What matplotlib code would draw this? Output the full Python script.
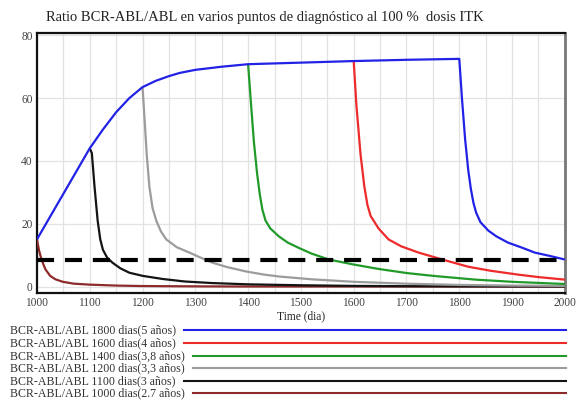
import matplotlib
matplotlib.use("Agg")
import matplotlib.pyplot as plt
from matplotlib.lines import Line2D

title = "Ratio BCR-ABL/ABL en varios puntos de diagnóstico al 100 %  dosis ITK"
xlabel = "Time (dia)"

# Blue: diagnosis at 1800 days
t_1800 = [1000, 1100, 1125, 1150, 1175, 1200, 1225, 1250, 1270, 1300, 1350, 1400, 1500, 1600, 1700, 1800,
          1805, 1811, 1817, 1822, 1827, 1832, 1840, 1855, 1870, 1892, 1920, 1943, 1970, 2000]
v_1800 = [15, 44, 50, 55.5, 60, 63.5, 65.5, 67, 68, 69, 70, 70.8, 71.3, 71.8, 72.2, 72.5,
          60, 47, 37, 31, 26.5, 23.5, 20.5, 17.8, 16, 14, 12.3, 10.8, 9.8, 8.6]

# Red: diagnosis at 1600 days
t_1600 = [1600, 1605, 1613, 1620, 1626, 1632, 1647, 1666, 1690, 1723, 1770, 1817, 1860, 1911, 1950, 2000]
v_1600 = [71.8, 58, 42, 32, 26, 22.5, 18.5, 15, 12.8, 10.8, 8.5, 6.3, 5, 3.8, 3, 2.2]

# Green: diagnosis at 1400 days
t_1400 = [1400, 1406, 1411, 1417, 1422, 1427, 1433, 1442, 1458, 1475, 1496, 1520, 1553, 1600, 1647, 1700,
          1750, 1830, 1900, 2000]
v_1400 = [70.8, 57, 46, 36, 29.5, 24.5, 21, 18.5, 16, 14, 12.3, 10.5, 8.6, 7, 5.6, 4.3, 3.4, 2.2, 1.5, 0.8]

# Gray: diagnosis at 1200 days
t_1200 = [1200, 1204, 1208, 1213, 1219, 1226, 1235, 1245, 1265, 1289, 1310, 1332, 1360, 1396, 1430,
          1458, 1520, 1600, 1700, 1800, 1900, 2000]
v_1200 = [63.5, 53, 42, 31.8, 25, 21, 17.5, 15, 12.5, 10.8, 9.2, 7.6, 6.2, 4.8, 3.8, 3.2, 2.3, 1.5,
          0.9, 0.5, 0.3, 0.2]

# Black: diagnosis at 1100 days
t_1100 = [1100, 1104, 1109, 1115, 1120, 1125, 1133, 1143, 1158, 1175, 1200, 1238, 1280, 1332, 1400,
          1500, 1600, 1700, 1800, 2000]
v_1100 = [44, 42.5, 32, 21, 15, 11.7, 9.2, 7.6, 5.8, 4.4, 3.4, 2.4, 1.6, 1.1, 0.7, 0.4, 0.2, 0.1,
          0.05, 0]

# Dark red: diagnosis at 1000 days
t_1000 = [1000, 1004, 1008, 1011, 1016, 1025, 1035, 1049, 1070, 1100, 1150, 1200, 1300, 1400, 2000]
v_1000 = [15, 11.5, 9, 7.6, 5.5, 3.4, 2.3, 1.5, 0.9, 0.6, 0.3, 0.15, 0.05, 0, 0]

threshold = 8.6

labels = ["BCR-ABL/ABL 1800 dias(5 años)",
          "BCR-ABL/ABL 1600 dias(4 años)",
          "BCR-ABL/ABL 1400 dias(3,8 años)",
          "BCR-ABL/ABL 1200 dias(3,3 años)",
          "BCR-ABL/ABL 1100 dias(3 años)",
          "BCR-ABL/ABL 1000 dias(2.7 años)"]
colors = ["#2222e6", "#ee2a2a", "#229a2a", "#9c9c9c", "#141414", "#8e2a2a"]
series = [(t_1800, v_1800), (t_1600, v_1600), (t_1400, v_1400),
          (t_1200, v_1200), (t_1100, v_1100), (t_1000, v_1000)]

xticks = [1000, 1100, 1200, 1300, 1400, 1500, 1600, 1700, 1800, 1900, 2000]
yticks = [0, 20, 40, 60, 80]

plt.rcParams['font.family'] = ['Liberation Serif', 'DejaVu Serif']

fig = plt.figure(figsize=(5.77, 4.0), dpi=100)
ax = fig.add_axes([0.064, 0.268, 0.915, 0.65])

for (t, v), c in zip(series[::-1], colors[::-1]):
    ax.plot(t, v, color=c, lw=1.6, solid_capstyle='butt', solid_joinstyle='round', zorder=3)

ax.plot([xticks[0], xticks[-1]], [threshold, threshold], color='black', lw=3.0,
        dashes=(4.1, 2.6), zorder=4)

ax.set_xlim(1000, 2000)
ax.set_ylim(-2, 80.8)
ax.set_xticks(xticks)
ax.set_xticks(list(range(1050, 2000, 100)), minor=True)
ax.set_yticks(yticks)
ax.grid(True, which='both', color='#e2e2e2', lw=0.9, zorder=0)
ax.tick_params(which='both', length=0, labelsize=8.3, colors='#444444', pad=3)
for sp in ['left', 'top', 'bottom']:
    ax.spines[sp].set_linewidth(1.6)
    ax.spines[sp].set_color('#111111')
ax.spines['right'].set_linewidth(2.0)
ax.spines['right'].set_color('#777777')

fig.text(0.459, 0.955, title, ha='center', va='center', fontsize=10.5, color='#222222')
fig.text(0.522, 0.21, xlabel, ha='center', va='center', fontsize=8.3, color='#222222')

# legend below the axes
ys = [330, 343, 356, 368, 381, 393]
texts = []
for lab, y in zip(labels, ys):
    tx = fig.text(10 / 577, 1 - y / 400, lab, ha='left', va='center', fontsize=8.6, color='#333333')
    texts.append(tx)
fig.canvas.draw()
r = fig.canvas.get_renderer()
for tx, c, y in zip(texts, colors, ys):
    bb = tx.get_window_extent(renderer=r)
    x0 = (bb.x1 + 8) / 577
    fig.add_artist(Line2D([x0, 566 / 577], [1 - y / 400, 1 - y / 400], transform=fig.transFigure,
                          color=c, lw=1.5))

fig.savefig("out.png", dpi=100)
